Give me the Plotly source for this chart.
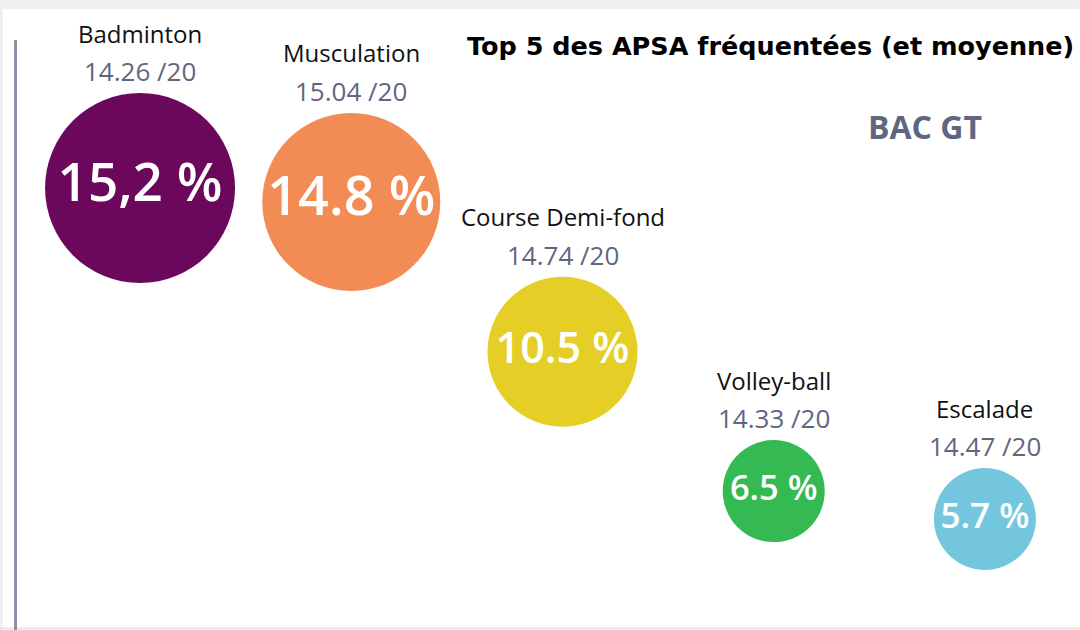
"""Top 5 des APSA fréquentées (BAC GT) - bubble layout with Plotly."""

import plotly.graph_objects as go

# Données
apsa = ["Badminton", "Musculation", "Course Demi-fond", "Volley-ball", "Escalade"]
pourcentages = [15.2, 14.8, 10.5, 6.5, 5.7]
pourcentages_txt = ["15,2 %", "14.8 %", "10.5 %", "6.5 %", "5.7 %"]
moyennes = [14.26, 15.04, 14.74, 14.33, 14.47]

# Style
COULEURS = ["#6c085c", "#f38b55", "#e5cf26", "#35b953", "#74c6df"]
DIAMETRES = [190, 178, 150, 102, 102]
TAILLES_TXT = [53, 54, 43, 34.5, 35]
GRIS = "#5f6680"
FONT = "Open Sans"

fig = go.Figure()

fig.add_trace(
    go.Scatter(
        x=apsa,
        y=pourcentages,
        mode="markers+text",
        marker=dict(size=DIAMETRES, color=COULEURS, opacity=1, line=dict(width=0)),
        text=pourcentages_txt,
        textposition="middle center",
        textfont=dict(family=FONT, size=TAILLES_TXT, color="white", weight=600),
        hoverinfo="skip",
        showlegend=False,
    )
)

# Nom de l'activité + moyenne au-dessus de chaque bulle
for nom, p, moy, d in zip(apsa, pourcentages, moyennes, DIAMETRES):
    r = d / 2
    fig.add_annotation(
        x=nom, y=p, text=nom, showarrow=False,
        yshift=r + 60, yanchor="middle",
        font=dict(family=FONT, size=24, color="#111111"),
    )
    fig.add_annotation(
        x=nom, y=p, text=f"{moy:.2f} /20", showarrow=False,
        yshift=r + 22, yanchor="middle",
        font=dict(family=FONT, size=26, color=GRIS),
    )

# Titre et sous-titre
fig.add_annotation(
    text="Top 5 des APSA fréquentées (et moyenne)",
    xref="paper", yref="paper", x=1076 / 1080, y=1 - 46 / 630,
    xanchor="right", yanchor="middle", showarrow=False,
    font=dict(family="DejaVu Sans", size=25.5, color="#000000", weight="bold"),
)
fig.add_annotation(
    text="BAC GT",
    xref="paper", yref="paper", x=925 / 1080, y=1 - 127 / 630,
    xanchor="center", yanchor="middle", showarrow=False,
    font=dict(family=FONT, size=32, color=GRIS, weight="bold"),
)

# Cadre : bandes grises et trait vertical
fig.add_shape(type="rect", xref="paper", yref="paper",
              x0=0, x1=1, y0=1 - 9 / 630, y1=1,
              fillcolor="#efefef", line_width=0, layer="below")
fig.add_shape(type="rect", xref="paper", yref="paper",
              x0=0, x1=3 / 1080, y0=0, y1=1,
              fillcolor="#efefef", line_width=0, layer="below")
fig.add_shape(type="line", xref="paper", yref="paper",
              x0=0, x1=1, y0=1.5 / 630, y1=1.5 / 630,
              line=dict(color="#e6e6e6", width=2))
fig.add_shape(type="line", xref="paper", yref="paper",
              x0=15.5 / 1080, x1=15.5 / 1080, y0=0, y1=1 - 40 / 630,
              line=dict(color="#8d91aa", width=3))

fig.update_layout(
    width=1080,
    height=630,
    margin=dict(l=0, r=0, t=0, b=0),
    paper_bgcolor="white",
    plot_bgcolor="white",
    xaxis=dict(type="category", range=[-0.663, 4.45], visible=False, fixedrange=True),
    yaxis=dict(range=[2.514, 20.596], visible=False, fixedrange=True),
)

# la page par défaut a une marge de 8 px autour du graphique
fig.write_html(
    "out.html",
    config={"displayModeBar": False},
    post_script="document.body.style.margin = '0';",
)
